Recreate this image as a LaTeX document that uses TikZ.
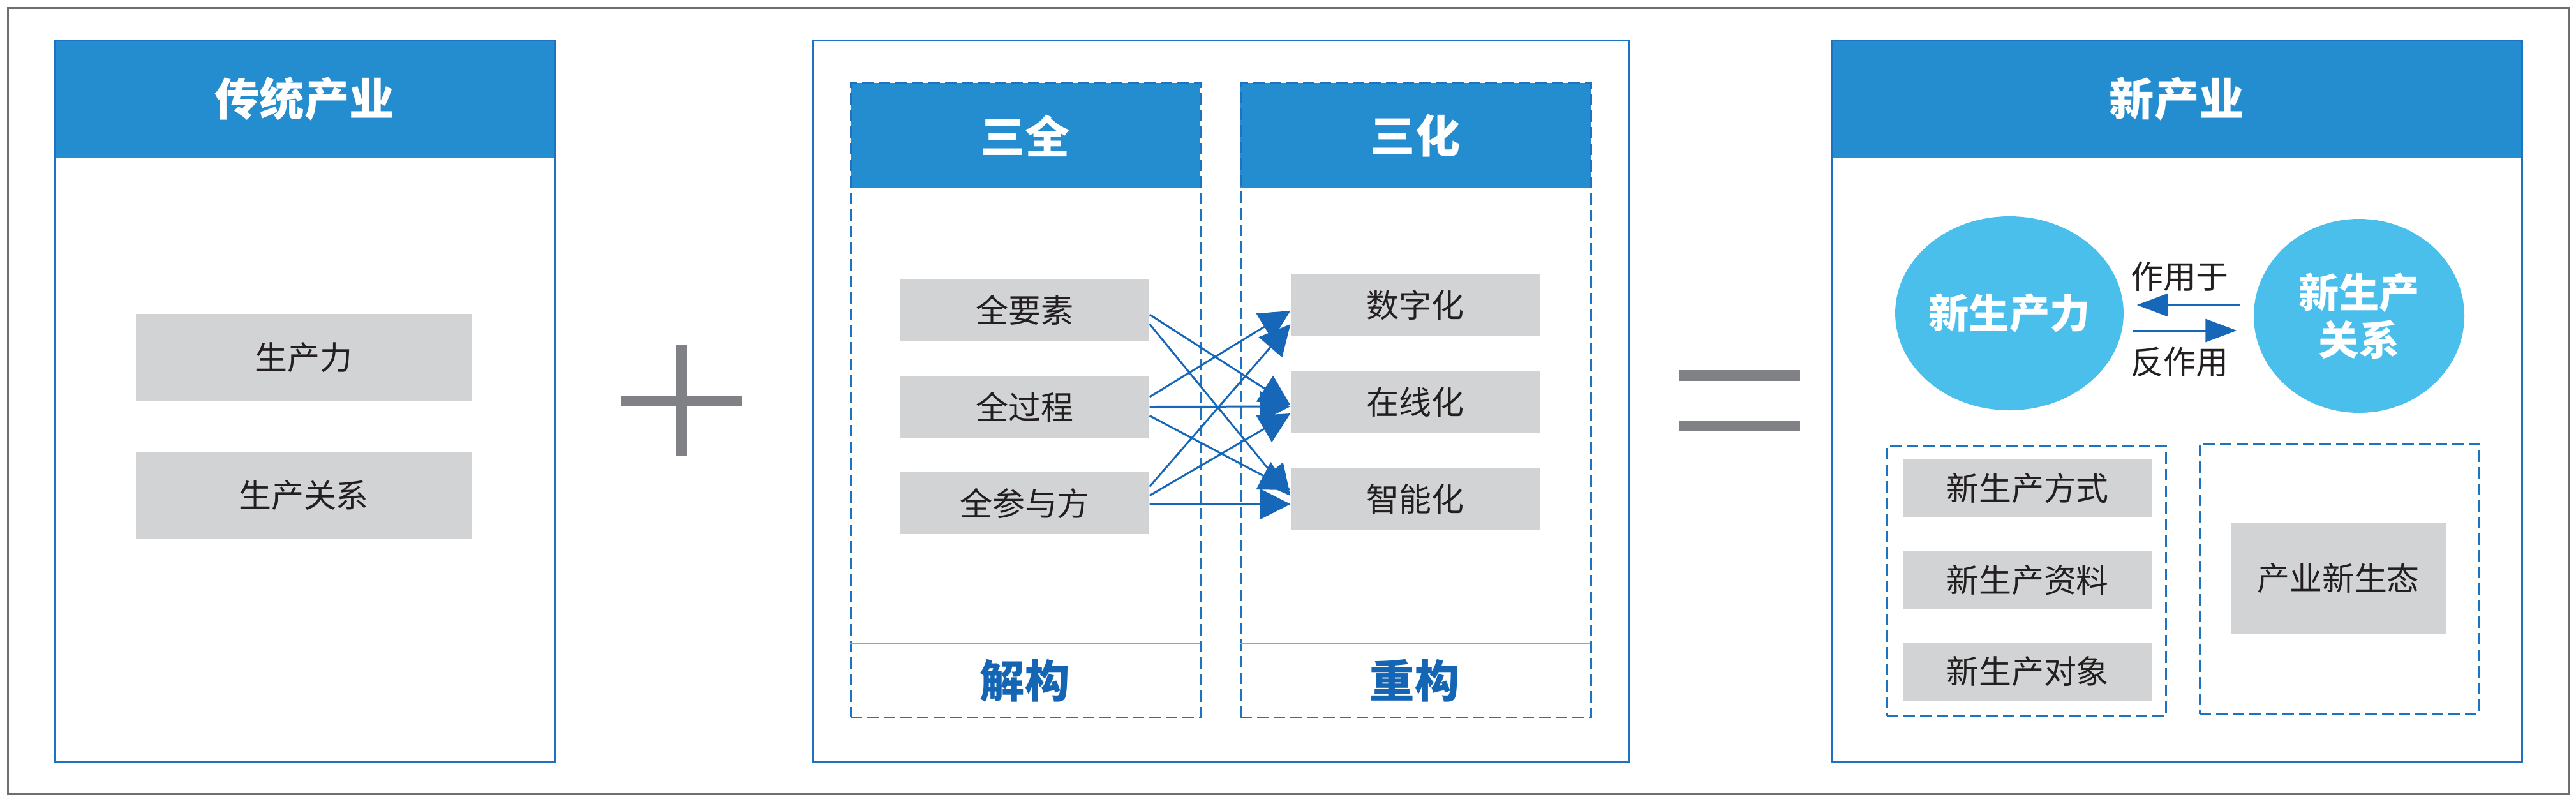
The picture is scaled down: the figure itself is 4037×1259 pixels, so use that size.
\documentclass[tikz,border=0pt]{standalone}
\usepackage{fontspec}
\setmainfont{Noto Sans CJK SC}
\usetikzlibrary{shapes.geometric,arrows.meta,calc}
\definecolor{hdrblue}{HTML}{238DCF}
\definecolor{lineblue}{HTML}{1E72C4}
\definecolor{arrblue}{HTML}{1767B8}
\definecolor{boxgray}{HTML}{D1D3D4}
\definecolor{circblue}{HTML}{4BBFEC}
\definecolor{sepblue}{HTML}{5AB8E8}
\definecolor{framegray}{HTML}{6D6E70}
\definecolor{signgray}{HTML}{808184}
\definecolor{txt}{HTML}{231F20}
\definecolor{darkblue}{HTML}{1565B5}
\begin{document}
\begin{tikzpicture}[x=0.1mm,y=-0.1mm,
  panel/.style={draw=lineblue, line width=0.28mm, anchor=north west, inner sep=0},
  hdr/.style={fill=hdrblue, anchor=north west, inner sep=0, text=white, font=\fontsize{20pt}{23pt}\selectfont\bfseries},
  gbox/.style={fill=boxgray, inner sep=0, text=txt, font=\fontsize{14.5pt}{16pt}\selectfont},
  dbox/.style={draw=lineblue, line width=0.28mm, dash pattern=on 1.8mm off 0.8mm, anchor=north west, inner sep=0},
  foot/.style={text=darkblue, font=\fontsize{20pt}{23pt}\selectfont\bfseries},
  arr/.style={draw=arrblue, line width=0.3mm, -{Triangle[length=4.8mm,width=4.8mm]}},
  carr/.style={draw=arrblue, line width=0.3mm, -{Triangle[length=4.9mm,width=3.6mm]}},
  circ/.style={ellipse, fill=circblue, inner sep=0, minimum width=33mm, minimum height=30.4mm, text=white, align=center, font=\fontsize{18pt}{21pt}\selectfont\bfseries},
  lbl/.style={text=txt, font=\fontsize{14.5pt}{16pt}\selectfont},
  sign/.style={fill=signgray, inner sep=0}
]
\useasboundingbox (0,0) rectangle (4037,1259);
% outer frame
\node[draw=framegray, line width=0.25mm, anchor=north west, inner sep=0, minimum width=401.3mm, minimum height=123.2mm] (frame) at (11,11) {};

% ---- left panel
\node[hdr, minimum width=78.3mm, minimum height=18.5mm] (lh) at (85,62) {传统产业};
\node[panel, minimum width=78.3mm, minimum height=113.1mm] (lp) at (85,62) {};
\node[gbox, minimum width=52.6mm, minimum height=13.6mm] (scl) at (476,560) {生产力};
\node[gbox, minimum width=52.6mm, minimum height=13.6mm] (scgx) at (476,776) {生产关系};

% plus sign
\node[sign, minimum width=1.7mm, minimum height=17.4mm] (plusv) at (1068,628) {};
\node[sign, minimum width=19mm, minimum height=1.7mm] (plush) at (1068,628) {};

% ---- middle panel
\node[panel, minimum width=128mm, minimum height=113mm] (mp) at (1272,62) {};
% left dashed column
\node[hdr, minimum width=54.8mm, minimum height=16.5mm] (sqh) at (1332,129) {三全};
\node[dbox, minimum width=54.8mm, minimum height=99.4mm] (sqb) at (1332,129) {};
\draw[sepblue, line width=0.2mm] (1332,1008) coordinate (sepl1) -- (1880,1008) coordinate (sepl2);
\node[foot] (jg) at (1606,1067) {解构};
% right dashed column
\node[hdr, minimum width=54.9mm, minimum height=16.5mm] (shh) at (1943,129) {三化};
\node[dbox, minimum width=54.9mm, minimum height=99.4mm] (shb) at (1943,129) {};
\draw[sepblue, line width=0.2mm] (1943,1008) coordinate (sepr1) -- (2492,1008) coordinate (sepr2);
\node[foot] (cg) at (2217,1067) {重构};
% items
\node[gbox, minimum width=39mm, minimum height=9.7mm] (qys) at (1606,485.5) {全要素};
\node[gbox, minimum width=39mm, minimum height=9.7mm] (qgc) at (1606,637.5) {全过程};
\node[gbox, minimum width=39mm, minimum height=9.7mm] (qcy) at (1606,788.5) {全参与方};
\node[gbox, minimum width=39mm, minimum height=9.6mm] (szh) at (2218,478) {数字化};
\node[gbox, minimum width=39mm, minimum height=9.6mm] (zxh) at (2218,630) {在线化};
\node[gbox, minimum width=39mm, minimum height=9.6mm] (znh) at (2218,782) {智能化};
% arrows
\draw[arr] ($(qys.east)+(0,7.5)$) -- ($(zxh.west)+(0,5)$);
\draw[arr] ($(qys.east)+(0,22.5)$) -- ($(znh.west)+(0,-5)$);
\draw[arr] ($(qgc.east)+(0,-15.5)$) -- ($(szh.west)+(0,9)$);
\draw[arr] ($(qgc.east)+(0,0)$) -- ($(zxh.west)+(0,7)$);
\draw[arr] ($(qgc.east)+(0,14)$) -- ($(znh.west)+(0,-14)$);
\draw[arr] ($(qcy.east)+(0,-26)$) -- ($(szh.west)+(0,30)$);
\draw[arr] ($(qcy.east)+(0,-12)$) -- ($(zxh.west)+(0,18)$);
\draw[arr] ($(qcy.east)+(0,1.5)$) -- ($(znh.west)+(0,8)$);

% equals sign
\node[sign, minimum width=18.9mm, minimum height=1.7mm] (eq1) at (2726.5,588.5) {};
\node[sign, minimum width=18.9mm, minimum height=1.7mm] (eq2) at (2726.5,667.5) {};

% ---- right panel
\node[hdr, minimum width=108.1mm, minimum height=18.5mm] (rh) at (2870,62) {新产业};
\node[panel, minimum width=108.1mm, minimum height=113mm] (rp) at (2870,62) {};
\node[circ] (nsl) at (3149,491) {新生产力};
\node[circ] (nsgx) at (3697,495) {新生产\\关系};
\draw[carr] ($(nsgx.west)+(-20,-17)$) -- ($(nsl.east)+(20,-13)$);
\draw[carr] ($(nsl.east)+(14,27)$) -- ($(nsgx.west)+(-26,23)$);
\node[lbl] (zyy) at (3416,433) {作用于};
\node[lbl] (fzy) at (3416,567) {反作用};
% lower dashed boxes
\node[dbox, minimum width=43.7mm, minimum height=42.3mm] (db1) at (2956,698) {};
\node[dbox, minimum width=43.7mm, minimum height=42.4mm] (db2) at (3446,694) {};
\node[gbox, minimum width=38.9mm, minimum height=9.1mm] (fs) at (3177.5,765.5) {新生产方式};
\node[gbox, minimum width=38.9mm, minimum height=9.1mm] (zl) at (3177.5,909.5) {新生产资料};
\node[gbox, minimum width=38.9mm, minimum height=9.1mm] (dx) at (3177.5,1052.5) {新生产对象};
\node[gbox, minimum width=33.7mm, minimum height=17.4mm] (stt) at (3664.5,906) {产业新生态};
\end{tikzpicture}
\end{document}
